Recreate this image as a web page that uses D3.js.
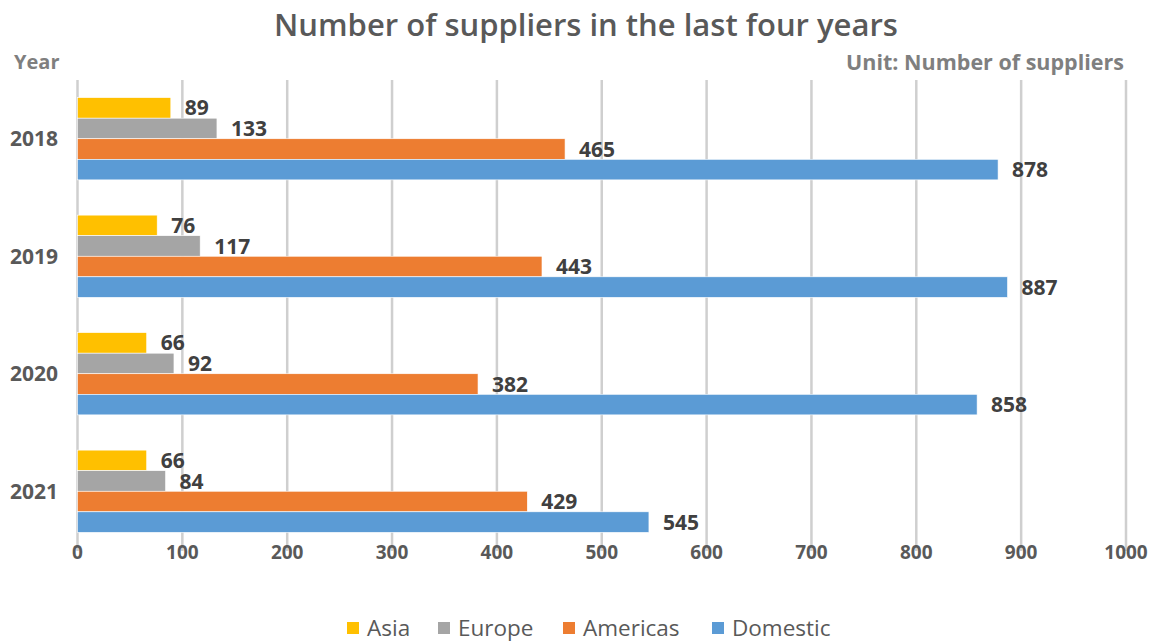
<!DOCTYPE html>
<html>
<head>
<meta charset="utf-8">
<script src="https://cdn.jsdelivr.net/npm/d3@7"></script>
<style>
  body { margin: 0; background: #ffffff; }
  text { font-family: "Open Sans", "Noto Sans", sans-serif; }
</style>
</head>
<body>
<div id="chart"></div>
<script>
/**
 * Data
 */
const years = ["2018", "2019", "2020", "2021"];
const seriesNames = ["Asia", "Europe", "Americas", "Domestic"];
const asia = [89, 76, 66, 66];
const europe = [133, 117, 92, 84];
const americas = [465, 443, 382, 429];
const domestic = [878, 887, 858, 545];
const xTicks = [0, 100, 200, 300, 400, 500, 600, 700, 800, 900, 1000];

const colors = ["#FFC000", "#A5A5A5", "#ED7D31", "#5B9BD5"];
const seriesValues = [asia, europe, americas, domestic];

/**
 * Basic settings
 */
const canvasWidth = 1157;
const canvasHeight = 644;
const plotLeft = 77.5;
const plotRight = 1126;
const plotTop = 80;
const plotBottom = 550;

const svg = d3.select("#chart")
  .append("svg")
  .attr("width", canvasWidth)
  .attr("height", canvasHeight)
  .style("background", "#ffffff");

/**
 * Scales
 */
const xScale = d3.scaleLinear()
  .domain([0, 1000])
  .range([plotLeft, plotRight]);

const yScale = d3.scaleBand()
  .domain(years)
  .range([plotTop, plotBottom])
  .paddingInner(0.3)
  .paddingOuter(0.15);

const seriesScale = d3.scaleBand()
  .domain(seriesNames)
  .range([0, yScale.bandwidth()]);

/**
 * Grid lines
 */
svg.append("g")
  .selectAll("line")
  .data(xTicks)
  .enter()
  .append("line")
  .attr("x1", d => xScale(d))
  .attr("x2", d => xScale(d))
  .attr("y1", plotTop)
  .attr("y2", plotBottom + 1)
  .attr("stroke", "#cfcfcf")
  .attr("stroke-width", 2.5);

/**
 * Bars
 */
const rows = [];
years.forEach(function(y, i) {
  seriesNames.forEach(function(s, j) {
    rows.push({ year: y, series: s, value: seriesValues[j][i], color: colors[j] });
  });
});

svg.append("g")
  .selectAll("rect")
  .data(rows)
  .enter()
  .append("rect")
  .attr("x", xScale(0))
  .attr("y", d => yScale(d.year) + seriesScale(d.series))
  .attr("width", d => xScale(d.value) - xScale(0))
  .attr("height", seriesScale.bandwidth())
  .attr("fill", d => d.color)
  .attr("stroke", "#ffffff")
  .attr("stroke-width", 0.6);

svg.append("g")
  .selectAll("text")
  .data(rows)
  .enter()
  .append("text")
  .attr("x", d => xScale(d.value) + 14)
  .attr("y", d => yScale(d.year) + seriesScale(d.series) + seriesScale.bandwidth() / 2)
  .attr("dy", "0.36em")
  .attr("font-size", 21)
  .attr("font-weight", "bold")
  .attr("fill", "#404040")
  .text(d => d.value);

/**
 * Axes labels
 */
svg.append("g")
  .selectAll("text")
  .data(xTicks)
  .enter()
  .append("text")
  .attr("x", d => xScale(d))
  .attr("y", 552)
  .attr("dy", "0.36em")
  .attr("text-anchor", "middle")
  .attr("font-size", 19)
  .attr("font-weight", "bold")
  .attr("fill", "#595959")
  .text(d => d);

svg.append("g")
  .selectAll("text")
  .data(years)
  .enter()
  .append("text")
  .attr("x", 58)
  .attr("y", d => yScale(d) + yScale.bandwidth() / 2)
  .attr("dy", "0.36em")
  .attr("text-anchor", "end")
  .attr("font-size", 21)
  .attr("font-weight", "bold")
  .attr("fill", "#595959")
  .text(d => d);

/**
 * Titles
 */
svg.append("text")
  .attr("x", 586)
  .attr("y", 25)
  .attr("dy", "0.36em")
  .attr("text-anchor", "middle")
  .attr("font-size", 31)
  .attr("font-weight", 600)
  .attr("fill", "#595959")
  .text("Number of suppliers in the last four years");

svg.append("text")
  .attr("x", 14)
  .attr("y", 62)
  .attr("dy", "0.36em")
  .attr("font-size", 20)
  .attr("font-weight", "bold")
  .attr("fill", "#7f7f7f")
  .text("Year");

svg.append("text")
  .attr("x", 1124)
  .attr("y", 62)
  .attr("dy", "0.36em")
  .attr("text-anchor", "end")
  .attr("font-size", 21.5)
  .attr("font-weight", "bold")
  .attr("fill", "#7f7f7f")
  .text("Unit: Number of suppliers");

/**
 * Legend
 */
const legendX = [347, 438, 563, 712];
const legend = svg.append("g")
  .selectAll("g")
  .data(seriesNames)
  .enter()
  .append("g")
  .attr("transform", (d, i) => "translate(" + legendX[i] + ", " + 628 + ")");

legend.append("rect")
  .attr("x", 0)
  .attr("y", -6)
  .attr("width", 12)
  .attr("height", 12)
  .attr("fill", (d, i) => colors[i]);

legend.append("text")
  .attr("x", 20)
  .attr("y", 0)
  .attr("dy", "0.36em")
  .attr("font-size", 22.5)
  .attr("fill", "#595959")
  .text(d => d);
</script>
</body>
</html>
